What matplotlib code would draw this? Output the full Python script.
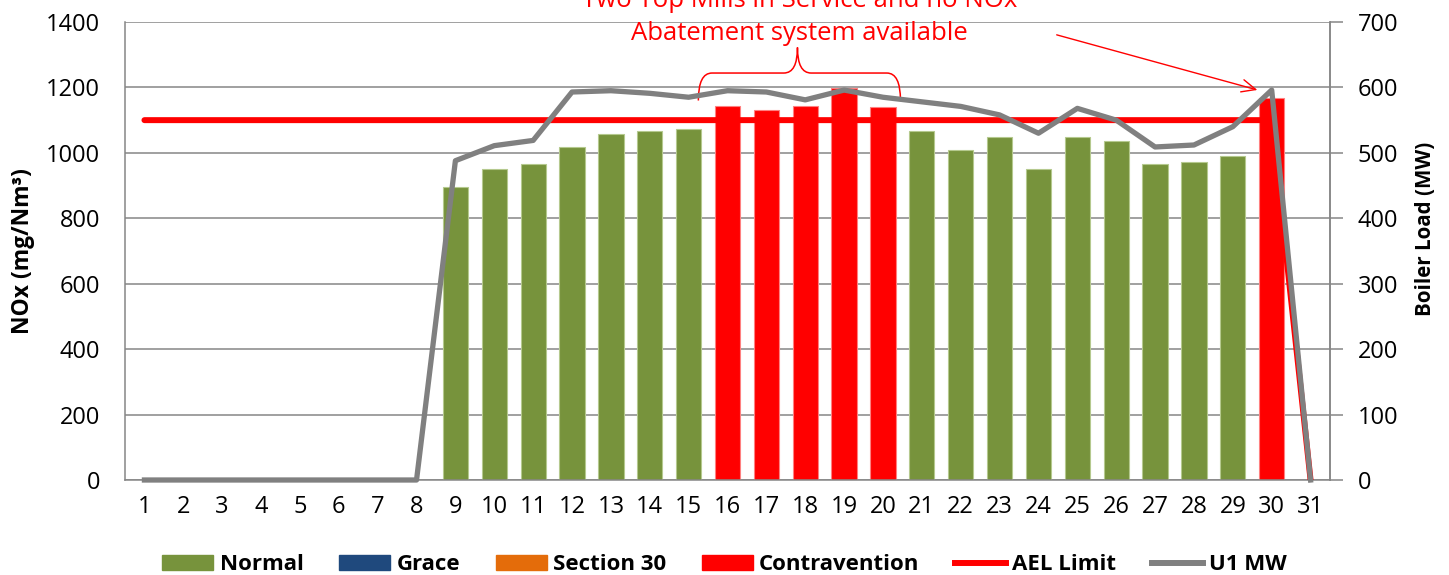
import numpy as np
import matplotlib
matplotlib.use("Agg")
import matplotlib.pyplot as plt
from matplotlib.patches import Patch, PathPatch
from matplotlib.lines import Line2D
from matplotlib.path import Path

plt.rcParams['font.family'] = ['Open Sans', 'DejaVu Sans']

#Daily data for the month
days = list(range(1, 32))
nox = [np.nan] * 8 + [897, 950, 967, 1018, 1058, 1068, 1073,
                      1143, 1132, 1143, 1198, 1139,
                      1067, 1010, 1050, 950, 1050, 1037, 965, 972, 991,
                      1167] + [np.nan]
status = [''] * 8 + ['Normal'] * 7 + ['Contravention'] * 5 + ['Normal'] * 9 + ['Contravention'] + ['']
ael_limit = [1100] * 30 + [0]
u1_mw = [0] * 8 + [488, 511, 519, 593, 595, 591, 585, 595, 593, 581, 596, 585,
                   578, 571, 558, 530, 568, 550, 509, 512, 540, 596] + [0]

colors = {
    'Normal': '#77933C',
    'Grace': '#1F497D',
    'Section 30': '#E46C0A',
    'Contravention': '#FF0000',
}
edges = {'Normal': '#B5C98E', 'Contravention': '#FF8080'}
grid_col = '#868686'

fig = plt.figure(figsize=(14.49, 5.75), dpi=100)
ax = fig.add_axes([125/1449, 95/575, 1205/1449, 458/575])

#bars
for d, v, s in zip(days, nox, status):
    if s == '' or np.isnan(v):
        continue
    ax.bar(d, v, width=0.65, color=colors[s], edgecolor=edges[s], linewidth=0.8, zorder=2)

ax.plot(days, ael_limit, color='#FF0000', lw=4.3, zorder=3, solid_capstyle='round')

ax.set_xlim(0.5, 31.5)
ax.set_ylim(0, 1400)
ax.set_yticks(range(0, 1401, 200))
ax.set_xticks(days)
ax.yaxis.grid(True, color=grid_col, lw=1.1, zorder=0)
ax.set_axisbelow(True)
ax.tick_params(axis='x', length=0, pad=11, labelsize=17)
ax.tick_params(axis='y', length=0, pad=18, labelsize=17)
for side in ['left', 'bottom', 'right']:
    ax.spines[side].set_color(grid_col)
    ax.spines[side].set_linewidth(1.1)
ax.spines['top'].set_visible(False)
ax.set_ylabel('NOx (mg/Nm³)', fontsize=16.5, fontweight='bold', labelpad=8)

#boiler load on right axis
ax2 = ax.twinx()
ax2.plot(days, u1_mw, color='#808080', lw=3.8, zorder=4, clip_on=False)
ax2.set_ylim(0, 700)
ax2.set_yticks(range(0, 701, 100))
ax2.tick_params(axis='y', length=9, width=1.1, color=grid_col, pad=11, labelsize=17)
ax2.spines['right'].set_color(grid_col)
ax2.spines['right'].set_linewidth(1.1)
ax2.spines['top'].set_visible(False)
ax2.spines['left'].set_visible(False)
ax2.spines['bottom'].set_visible(False)
ax2.set_ylabel('Boiler Load (MW)', fontsize=14.8, fontweight='bold', labelpad=12)
ax2.yaxis.label.set_y(0.548)

#annotation: brace over days 16-20 and arrow to day 30
x0, x1, xm, r = 15.25, 20.45, 17.8, 0.35
yb, yh, yt = 1160, 1244, 1322
verts = [(x0, yb), (x0, yh), (x0 + r, yh), (xm - r, yh), (xm, yh), (xm, yt),
         (xm, yt), (xm, yh), (xm + r, yh), (x1 - r, yh), (x1, yh), (x1, yb)]
codes = [Path.MOVETO, Path.CURVE3, Path.CURVE3, Path.LINETO, Path.CURVE3, Path.CURVE3,
         Path.MOVETO, Path.CURVE3, Path.CURVE3, Path.LINETO, Path.CURVE3, Path.CURVE3]
ax.add_patch(PathPatch(Path(verts, codes), fill=False, edgecolor='#FF0000', lw=1.1, zorder=5, clip_on=False))

ax.text(17.85, 1326, 'Two Top Mills in Service and no NOx\nAbatement system available',
        color='#FF0000', fontsize=18.5, ha='center', va='bottom', linespacing=1.42,
        clip_on=False, zorder=6)
ax.annotate('', xy=(29.7, 1190), xytext=(24.4, 1363),
            arrowprops=dict(arrowstyle='->,head_length=1.0,head_width=0.45', color='#FF0000', lw=1.0),
            annotation_clip=False, zorder=6)

#legend
handles = [Patch(color=colors['Normal'], label='Normal'),
           Patch(color=colors['Grace'], label='Grace'),
           Patch(color=colors['Section 30'], label='Section 30'),
           Patch(color=colors['Contravention'], label='Contravention'),
           Line2D([], [], color='#FF0000', lw=4.3, label='AEL Limit'),
           Line2D([], [], color='#808080', lw=4.3, label='U1 MW')]
fig.legend(handles=handles, loc='center', bbox_to_anchor=(0.5, 0.018), ncol=6, frameon=False,
           prop={'size': 16, 'weight': 'bold'}, handlelength=2.3, handleheight=0.65,
           handletextpad=0.28, columnspacing=1.6)

plt.savefig('out.png', dpi=100)
